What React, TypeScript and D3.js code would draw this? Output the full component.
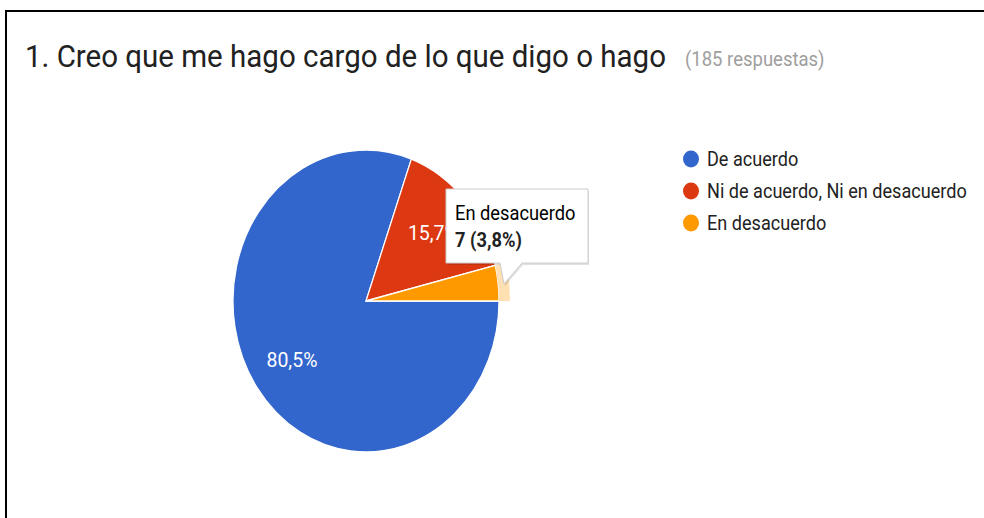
import React from "react";
import * as d3 from "d3";

const categories = ["De acuerdo", "Ni de acuerdo, Ni en desacuerdo", "En desacuerdo"];
const values = [149, 29, 7];
const colors = ["#3366cc", "#dc3912", "#ff9900"];
const highlightColor = "#ffe0b2";
const titleText = "1. Creo que me hago cargo de lo que digo o hago";
const subtitleText = "(185 respuestas)";
const hoveredIndex = 2;

const W = 984;
const H = 518;
const cx = 366;
const cy = 301;
const rx = 133;
const ry = 151;

const fmtPct = (v: number, total: number) =>
  (Math.round((v / total) * 1000) / 10).toFixed(1).replace(".", ",") + "%";

const stretch = (x: number, y: number, k: number) =>
  `translate(${x},${y}) scale(1,${k}) translate(${-x},${-y})`;

export default function App() {
  const total = d3.sum(values);
  const pie = d3
    .pie<number>()
    .sort(null)
    .startAngle(Math.PI / 2)
    .endAngle(Math.PI / 2 + 2 * Math.PI);
  const arcs = pie(values);
  const arc = d3.arc<d3.PieArcDatum<number>>().innerRadius(0).outerRadius(rx);
  const ring = d3.arc<d3.PieArcDatum<number>>().innerRadius(rx).outerRadius(rx + 11);
  const labelArc = d3.arc<d3.PieArcDatum<number>>().innerRadius(rx * 0.68).outerRadius(rx * 0.68);
  const sy = ry / rx;
  const font = "Roboto, Arial, sans-serif";

  // tooltip geometry
  const tx = 446, ty = 189, tw = 142, th = 74;
  const tipPath = `M${tx},${ty} H${tx + tw} V${ty + th} H${522} L${504},${284} L${500},${ty + th} H${tx} Z`;

  return (
    <svg width={W} height={H} style={{ position: "absolute", left: 0, top: 0, background: "#fff" }}>
      <rect x={0} y={0} width={W} height={H} fill="#fff" />
      <path d={`M6,${H} V11 H${W}`} fill="none" stroke="#000" strokeWidth={2} />
      <text x={25} y={67} fontFamily={font} fontSize={29.5} fill="#212121" transform={stretch(25, 67, 1.07)}>
        {titleText}
      </text>
      <text x={685} y={66} fontFamily={font} fontSize={18.5} fill="#9e9e9e" transform={stretch(685, 66, 1.05)}>
        {subtitleText}
      </text>
      <g transform={`translate(${cx},${cy}) scale(1,${sy})`}>
        {arcs.map((a, i) => (
          <path key={i} d={arc(a) || ""} fill={colors[i]} stroke="#fff" strokeWidth={1.2} />
        ))}
        <path d={ring(arcs[hoveredIndex]) || ""} fill={highlightColor} />
      </g>
      {arcs.map((a, i) => {
        if (i === hoveredIndex) return null;
        const [lx, ly] = labelArc.centroid(a);
        const x = cx + lx;
        const y = cy + ly * sy + 7;
        return (
          <text key={i} x={x} y={y} textAnchor="middle"
            fontFamily={font} fontSize={19.5} fill="#fff" transform={stretch(x, y, 1.08)}>
            {fmtPct(values[i], total)}
          </text>
        );
      })}
      <g>
        <path d={tipPath} fill="#000" opacity={0.12} transform="translate(1,2)" />
        <path d={tipPath} fill="#fff" stroke="#ccc" strokeWidth={1} />
        <text x={455} y={220} fontFamily={font} fontSize={18.3} fill="#000" transform={stretch(455, 220, 1.08)}>
          {categories[hoveredIndex]}
        </text>
        <text x={455} y={247} fontFamily={font} fontSize={18.3} fontWeight="bold" fill="#222" transform={stretch(455, 247, 1.08)}>
          {`${values[hoveredIndex]} (${fmtPct(values[hoveredIndex], total).replace("%", "")}%)`}
        </text>
      </g>
      {categories.map((c, i) => {
        const y = 159 + i * 32;
        return (
          <g key={i}>
            <ellipse cx={691} cy={y} rx={8} ry={8.5} fill={colors[i]} />
            <text x={707} y={y + 7.5} fontFamily={font} fontSize={18.1} fill="#222" transform={stretch(707, y + 7.5, 1.1)}>
              {c}
            </text>
          </g>
        );
      })}
    </svg>
  );
}
